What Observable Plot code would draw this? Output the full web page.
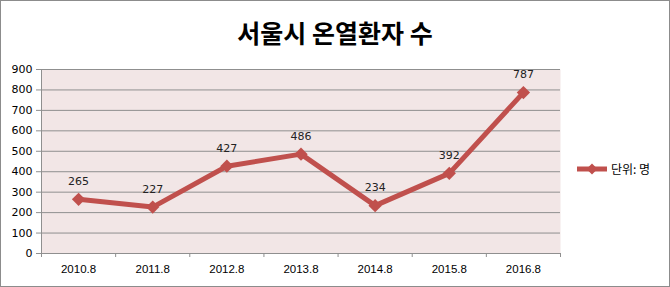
<!DOCTYPE html>
<html>
<head>
<meta charset="utf-8">
<script src="https://cdn.jsdelivr.net/npm/d3@7"></script>
<script src="https://cdn.jsdelivr.net/npm/@observablehq/plot@0.6"></script>
<style>
  html, body { margin: 0; padding: 0; background: #fff; }
  #wrap { position: relative; width: 670px; height: 287px; overflow: hidden; }
  #title { position: absolute; left: 0; top: 16px; width: 670px; text-align: center;
    font-family: "Noto Sans CJK KR", sans-serif; font-weight: 700; font-size: 25px; color: #000; line-height: 32px; }
  #legend { position: absolute; left: 576px; top: 160px; display: flex; align-items: center;
    font-family: "Noto Sans CJK KR", sans-serif; font-size: 12px; color: #000; }
  #border { position: absolute; left: 0; top: 0; width: 670px; height: 287px; box-sizing: border-box;
    border: 1px solid #8c8c8c; pointer-events: none; }
</style>
</head>
<body>
<div id="wrap">
  <div id="chart"></div>
  <div id="title"></div>
  <div id="legend"></div>
  <div id="border"></div>
</div>
<script>
const titleText = "서울시 온열환자 수";
const seriesName = "단위: 명";
const categories = ["2010.8", "2011.8", "2012.8", "2013.8", "2014.8", "2015.8", "2016.8"];
const values = [265, 227, 427, 486, 234, 392, 787];
const yTicks = [0, 100, 200, 300, 400, 500, 600, 700, 800, 900];

const lineColor = "#c0504d";
const data = categories.map((c, i) => ({cat: c, pos: i + 0.5, v: values[i]}));
const bandEdges = d3.range(categories.length + 1);
const bandCenters = categories.map((c, i) => i + 0.5);

const chart = Plot.plot({
  width: 670,
  height: 287,
  marginLeft: 41,
  marginRight: 110,
  marginTop: 69,
  marginBottom: 34,
  style: {fontFamily: "DejaVu Sans, sans-serif", fontSize: "11px", color: "#000", background: "transparent"},
  x: {domain: [0, categories.length]},
  y: {domain: [0, 900]},
  marks: [
    Plot.frame({fill: "#f2e6e6", stroke: "none"}),
    Plot.ruleY(yTicks, {stroke: "#8f8f8f", strokeWidth: 1}),
    Plot.ruleX([0], {stroke: "#8f8f8f", strokeWidth: 1}),
    Plot.axisY({ticks: yTicks, tickSize: 5, tickPadding: 4, stroke: "#8f8f8f", label: null,
      fontFamily: "DejaVu Sans, sans-serif", fontSize: 11}),
    Plot.axisX({ticks: bandEdges, tickSize: 4, tickFormat: () => "", stroke: "#8f8f8f", label: null}),
    Plot.axisX({ticks: bandCenters, tickSize: 0, tickPadding: 11, label: null,
      tickFormat: d => categories[Math.round(d - 0.5)],
      fontFamily: "Liberation Sans, sans-serif", fontSize: 11.5}),
    Plot.line(data, {x: "pos", y: "v", stroke: lineColor, strokeWidth: 5, strokeLinejoin: "round"}),
    Plot.dot(data, {x: "pos", y: "v", symbol: "diamond2", r: 6, fill: lineColor, stroke: "none"}),
    Plot.text(data, {x: "pos", y: "v", text: d => String(d.v), dy: -18, fill: "#222",
      fontFamily: "DejaVu Sans, sans-serif", fontSize: 11})
  ]
});
document.getElementById("chart").appendChild(chart);
document.getElementById("title").textContent = titleText;

const legend = document.getElementById("legend");
legend.innerHTML = `<svg width="32" height="14" style="margin-right:3px">
  <line x1="1" y1="7" x2="31" y2="7" stroke="${lineColor}" stroke-width="5"/>
  <path d="M16,1.5 L21.5,7 L16,12.5 L10.5,7 Z" fill="${lineColor}"/>
</svg><span></span>`;
legend.querySelector("span").textContent = seriesName;
</script>
</body>
</html>
